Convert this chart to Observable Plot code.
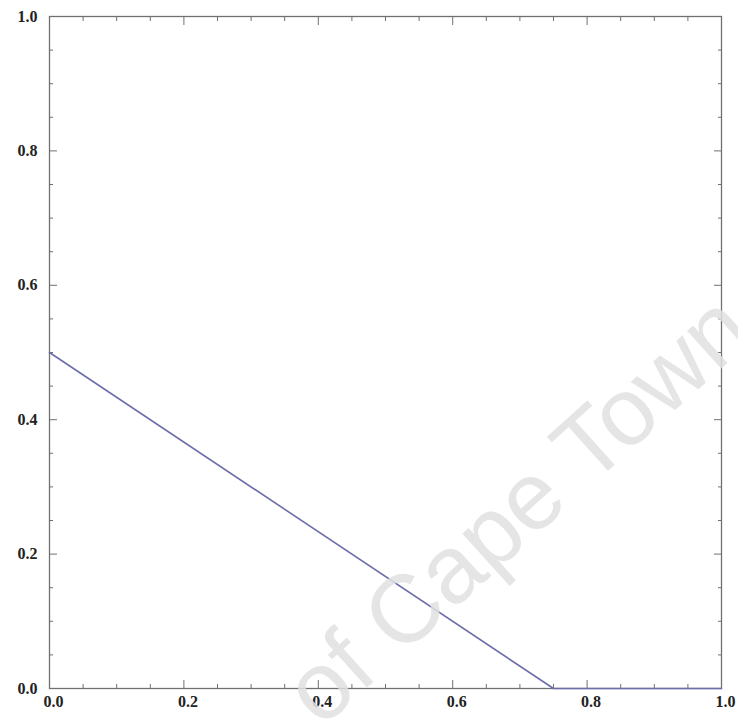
<!DOCTYPE html>
<html>
<head>
<meta charset="utf-8">
<script src="https://cdn.jsdelivr.net/npm/d3@7"></script>
<script src="https://cdn.jsdelivr.net/npm/@observablehq/plot@0.6"></script>
<style>
  html, body { margin: 0; padding: 0; background: #fff; overflow: hidden; }
  #wrap { position: relative; width: 738px; height: 720px; overflow: hidden; }
  #wm { position: absolute; left: 0; top: 0; pointer-events: none; }
</style>
</head>
<body>
<div id="wrap"></div>
<script>
// Data
const xValues = [0, 0.75, 1.0];
const yValues = [0.5, 0, 0];
const majorTicks = [0, 0.2, 0.4, 0.6, 0.8, 1.0];
const minorTicks = d3.range(0, 21).map(i => i / 20).filter(t => Math.round(t * 20) % 4 !== 0);
const watermark = "of Cape Town";

const data = xValues.map((x, i) => ({x, y: yValues[i]}));
const fmt = d3.format(".1f");
const frameColor = "#707070";
const blank = () => "";

const plot = Plot.plot({
  width: 738,
  height: 720,
  marginLeft: 49,
  marginRight: 17,
  marginTop: 16,
  marginBottom: 32,
  x: {domain: [0, 1]},
  y: {domain: [0, 1]},
  style: {fontFamily: "'Liberation Serif', 'Times New Roman', serif", fontSize: "16px", color: "#222", background: "transparent"},
  marks: [
    Plot.frame({stroke: frameColor, strokeWidth: 1.3}),
    // inward major ticks
    Plot.axisX({anchor: "bottom", ticks: majorTicks, tickSize: -8, tickFormat: blank, stroke: frameColor, label: null}),
    Plot.axisX({anchor: "top", ticks: majorTicks, tickSize: -8, tickFormat: blank, stroke: frameColor, label: null}),
    Plot.axisY({anchor: "left", ticks: majorTicks, tickSize: -8, tickFormat: blank, stroke: frameColor, label: null}),
    Plot.axisY({anchor: "right", ticks: majorTicks, tickSize: -8, tickFormat: blank, stroke: frameColor, label: null}),
    // inward minor ticks
    Plot.axisX({anchor: "bottom", ticks: minorTicks, tickSize: -4, tickFormat: blank, stroke: frameColor, label: null}),
    Plot.axisX({anchor: "top", ticks: minorTicks, tickSize: -4, tickFormat: blank, stroke: frameColor, label: null}),
    Plot.axisY({anchor: "left", ticks: minorTicks, tickSize: -4, tickFormat: blank, stroke: frameColor, label: null}),
    Plot.axisY({anchor: "right", ticks: minorTicks, tickSize: -4, tickFormat: blank, stroke: frameColor, label: null}),
    // labels
    Plot.axisX({anchor: "bottom", ticks: majorTicks, tickSize: 0, tickPadding: 7, tickFormat: fmt, fontWeight: "bold", label: null, dx: 4}),
    Plot.axisY({anchor: "left", ticks: majorTicks, tickSize: 0, tickPadding: 12, tickFormat: fmt, fontWeight: "bold", label: null}),
    Plot.line(data, {x: "x", y: "y", stroke: "#6c6eab", strokeWidth: 1.6})
  ]
});

const wrap = document.getElementById("wrap");
wrap.appendChild(plot);

// faint scanned watermark overlay
const wm = d3.select(wrap).append("svg")
  .attr("id", "wm").attr("width", 738).attr("height", 720);
wm.append("text")
  .attr("transform", "translate(321,729) rotate(-42)")
  .attr("font-family", "'Liberation Sans', Arial, sans-serif")
  .attr("font-size", 96)
  .attr("fill", "#e0e0e0")
  .attr("fill-opacity", 0.85)
  .text(watermark);
</script>
</body>
</html>
